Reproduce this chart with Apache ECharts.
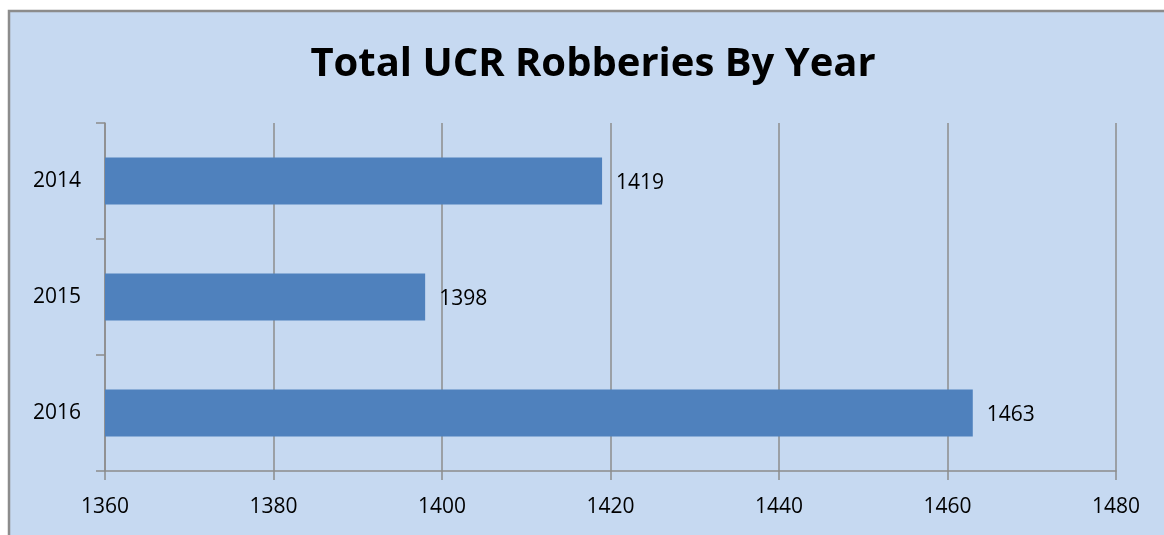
<!DOCTYPE html>
<html>
<head>
<meta charset="utf-8">
<script src="https://cdn.jsdelivr.net/npm/echarts@6/dist/echarts.min.js"></script>
<style>
html,body{margin:0;padding:0;background:#ffffff;}
#c{width:1164px;height:535px;}
</style>
</head>
<body>
<div id="c"></div>
<script>
var titleText = 'Total UCR Robberies By Year';
var categories = ['2014', '2015', '2016'];
var values = [1419, 1398, 1463];
var xMin = 1360, xMax = 1480, xStep = 20;

var chart = echarts.init(document.getElementById('c'));
chart.setOption({
  animation: false,
  backgroundColor: '#ffffff',
  graphic: [{
    type: 'rect',
    z: -10,
    shape: {x: 9, y: 11, width: 1170, height: 540},
    style: {fill: '#c6d9f1', stroke: '#8c8c8c', lineWidth: 2.5}
  }],
  title: {
    text: titleText,
    left: 588,
    textAlign: 'center',
    top: 40,
    textStyle: {fontFamily: 'Open Sans', fontWeight: 'bold', fontSize: 40, color: '#000'}
  },
  grid: {left: 105, right: 48, top: 123, bottom: 64, containLabel: false},
  xAxis: {
    type: 'value',
    min: xMin, max: xMax, interval: xStep,
    axisLine: {show: true, lineStyle: {color: '#8c8c8c', width: 1.5}},
    axisTick: {show: true, length: 9, lineStyle: {color: '#8c8c8c', width: 1.5}},
    axisLabel: {margin: 26, fontFamily: 'Open Sans', fontSize: 21, color: '#000',
      formatter: function (v) { return String(v); }},
    splitLine: {show: true, lineStyle: {color: '#8c8c8c', width: 1.5}}
  },
  yAxis: {
    type: 'category',
    data: categories,
    inverse: true,
    axisLine: {show: true, lineStyle: {color: '#8c8c8c', width: 1.5}},
    axisTick: {show: true, length: 9, lineStyle: {color: '#8c8c8c', width: 1.5}},
    axisLabel: {margin: 24, fontFamily: 'Open Sans', fontSize: 21, color: '#000', padding: [4, 0, 0, 0]},
    splitLine: {show: false}
  },
  series: [{
    type: 'bar',
    data: values,
    barWidth: 47,
    itemStyle: {color: '#4f81bd'},
    label: {show: true, position: 'right', distance: 14, offset: [0, 2], fontFamily: 'Open Sans', fontSize: 21, color: '#000'}
  }]
});
</script>
</body>
</html>
